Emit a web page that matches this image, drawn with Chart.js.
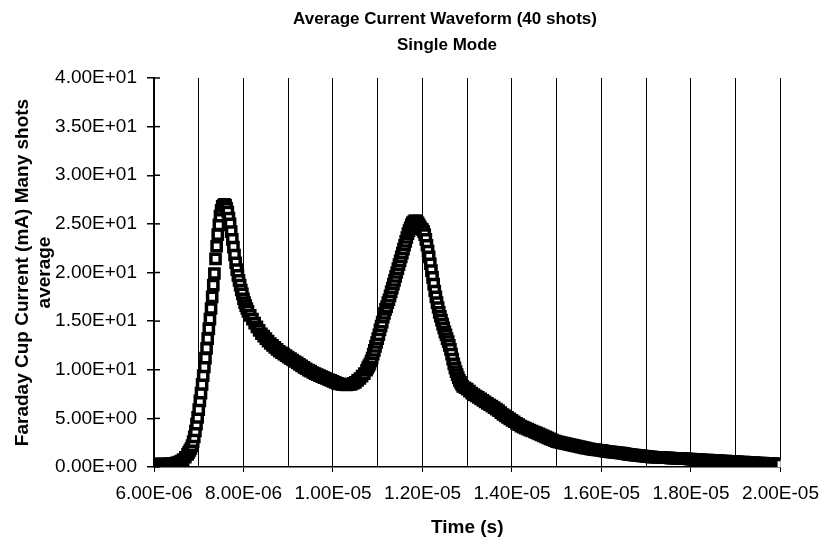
<!DOCTYPE html>
<html>
<head>
<meta charset="utf-8">
<script src="https://cdn.jsdelivr.net/npm/chart.js@4.4.1/dist/chart.umd.min.js"></script>
<style>
  html, body { margin: 0; padding: 0; background: #fff; }
  #wrap { width: 829px; height: 541px; }
</style>
</head>
<body>
<div id="wrap"><canvas id="grafico"></canvas></div>
<script>
// tiempos en microsegundos; paso de 0.05 en lo plano y 0.025 en los frentes rapidos
const baselineStart = 6.0, baselineStep = 0.05;
const baselineCurrent = [
  0.3, 0.3, 0.3, 0.3, 0.3, 0.3, 0.3, 0.32, 0.35, 0.38,
  0.42, 0.5, 0.6, 0.75, 1.0
];

const peak1Start = 6.75, peak1Step = 0.025;
const peak1Current = [
  1.3, 1.5, 1.7, 1.9, 2.2, 2.6, 3.1, 3.7, 4.4, 5.1, 5.9,
  6.8, 7.6, 8.5, 9.4, 10.3, 11.2, 12.2, 13.2, 14.2, 15.2,
  16.3, 17.5, 18.7, 19.9, 21.4, 22.7, 23.9, 24.9, 25.8, 26.4,
  26.8, 26.9, 27.0, 26.9, 26.6, 26.2, 25.6, 25.0, 24.2, 23.4,
  22.6, 21.8, 21.0, 20.3, 19.7, 19.2, 18.7, 18.2, 17.8, 17.3,
  16.9, 16.6, 16.3, 16.0
];

const valleyStart = 8.15, valleyStep = 0.05;
const valleyCurrent = [
  15.6, 15.2, 14.8, 14.4, 14.05, 13.7, 13.45, 13.2, 12.95, 12.7,
  12.5, 12.3, 12.1, 11.9, 11.75, 11.6, 11.45, 11.3, 11.15, 11.0,
  10.85, 10.7, 10.55, 10.4, 10.25, 10.1, 9.97, 9.85, 9.72, 9.6,
  9.5, 9.4, 9.3, 9.2, 9.1, 9.0, 8.9, 8.8, 8.7, 8.6,
  8.55, 8.5, 8.47, 8.45, 8.47, 8.5, 8.6, 8.7, 8.9, 9.1,
  9.35, 9.6
];

const peak2Start = 10.75, peak2Step = 0.025;
const peak2Current = [
  9.95, 10.2, 10.4, 10.6, 10.9, 11.2, 11.6, 12.0, 12.4, 12.8,
  13.2, 13.6, 14.1, 14.5, 14.9, 15.4, 15.8, 16.2, 16.5, 16.9,
  17.2, 17.6, 18.0, 18.4, 18.8, 19.2, 19.6, 20.0, 20.4, 20.8,
  21.2, 21.6, 22.0, 22.4, 22.8, 23.2, 23.6, 24.0, 24.3, 24.6,
  24.9, 25.1, 25.2, 25.3, 25.3, 25.2,
  25.1, 24.9, 24.7, 24.5, 24.4, 24.2, 23.9, 23.4, 22.8, 22.2,
  21.6, 20.9, 20.2, 19.5, 18.8, 18.1, 17.5, 16.9, 16.4, 15.9,
  15.5, 15.1, 14.7, 14.3, 13.9, 13.6, 13.2, 12.9, 12.5, 12.1,
  11.6, 11.1, 10.6, 10.2, 9.8, 9.5, 9.2, 8.9, 8.7, 8.5, 8.3
];

const tailStart = 12.95, tailStep = 0.05;
const tailCurrent = [
  8.15, 8.0,
  7.8, 7.6, 7.45, 7.3, 7.15, 7.0, 6.85, 6.7, 6.55, 6.4,
  6.25, 6.1, 5.95, 5.8, 5.6, 5.4, 5.25, 5.1, 4.95, 4.8,
  4.65, 4.5, 4.35, 4.2, 4.1, 4.0, 3.9, 3.8, 3.7, 3.6,
  3.5, 3.4, 3.3, 3.2, 3.1, 3.0, 2.9, 2.8, 2.7, 2.6,
  2.55, 2.5, 2.45, 2.4, 2.35, 2.3, 2.25, 2.2, 2.15, 2.1,
  2.05, 2.0, 1.95, 1.9, 1.85, 1.8, 1.78, 1.75, 1.72, 1.7,
  1.65, 1.6, 1.58, 1.55, 1.52, 1.5, 1.47, 1.45, 1.42, 1.4,
  1.35, 1.3, 1.28, 1.25, 1.22, 1.2, 1.18, 1.15, 1.12, 1.1,
  1.08, 1.05, 1.02, 1.0, 1.0, 1.0, 0.98, 0.95, 0.95, 0.95,
  0.92, 0.9, 0.9, 0.9, 0.88, 0.85, 0.85, 0.85, 0.82, 0.8,
  0.78, 0.75, 0.75, 0.75, 0.72, 0.7, 0.7, 0.7, 0.68, 0.65,
  0.65, 0.65, 0.62, 0.6, 0.6, 0.6, 0.58, 0.55, 0.55, 0.55,
  0.52, 0.5, 0.5, 0.5, 0.48, 0.45, 0.45, 0.45, 0.42, 0.4,
  0.4, 0.4, 0.38, 0.35, 0.35, 0.35, 0.32, 0.3, 0.3, 0.3
];

const chartTitle = ["Average Current Waveform (40 shots)", "Single Mode"];
const xTitle = "Time (s)";
const yTitle = ["Faraday Cup Current (mA) Many shots", "average"];

function tramo(inicio, paso, valores) {
  return valores.map((v, i) => ({ x: +(inicio + i * paso).toFixed(3), y: v }));
}

// formato tipo Excel: 1.20E-05
function sci(v) {
  const partes = v.toExponential(2).split("e");
  const exp = parseInt(partes[1], 10);
  return partes[0] + "E" + (exp < 0 ? "-" : "+") + String(Math.abs(exp)).padStart(2, "0");
}

const puntos = [].concat(
  tramo(baselineStart, baselineStep, baselineCurrent),
  tramo(peak1Start, peak1Step, peak1Current),
  tramo(valleyStart, valleyStep, valleyCurrent),
  tramo(peak2Start, peak2Step, peak2Current),
  tramo(tailStart, tailStep, tailCurrent)
);

const fuente = "'Liberation Sans', Arial, sans-serif";

// titulo centrado como en el original y marcas cortas hacia dentro del eje Y
const extras = {
  id: "extras",
  beforeDatasetsDraw(chart) {
    const ctx = chart.ctx;
    const y = chart.scales.y;
    const area = chart.chartArea;
    ctx.save();
    ctx.strokeStyle = "#000";
    ctx.lineWidth = 1.5;
    y.ticks.forEach(t => {
      const py = y.getPixelForValue(t.value);
      ctx.beginPath();
      ctx.moveTo(area.left, py);
      ctx.lineTo(area.left + 6, py);
      ctx.stroke();
    });
    ctx.restore();
  },
  afterDraw(chart) {
    const ctx = chart.ctx;
    ctx.save();
    ctx.fillStyle = "#000";
    ctx.font = "bold 17px " + fuente;
    ctx.textAlign = "center";
    ctx.textBaseline = "middle";
    ctx.fillText(chartTitle[0], 445, 19);
    ctx.fillText(chartTitle[1], 447, 45);
    ctx.restore();
  }
};

const ctx = document.getElementById("grafico").getContext("2d");
new Chart(ctx, {
  type: "scatter",
  data: {
    datasets: [{
      label: "Average current",
      data: puntos,
      showLine: false,
      pointStyle: "rect",
      pointRadius: 6.5,
      pointHoverRadius: 6.5,
      pointBorderWidth: 3.5,
      pointBackgroundColor: "#fff",
      pointBorderColor: "#000"
    }]
  },
  options: {
    responsive: true,
    maintainAspectRatio: false,
    animation: false,
    events: [],
    layout: { padding: { left: 0, right: 43, top: 78, bottom: 0 } },
    plugins: {
      legend: { display: false },
      title: { display: false },
      tooltip: { enabled: false }
    },
    scales: {
      x: {
        type: "linear",
        min: 6,
        max: 20,
        afterFit: s => { s.height = 74; },
        ticks: {
          stepSize: 1,
          autoSkip: false,
          maxRotation: 0,
          padding: 10,
          color: "#000",
          font: { family: fuente, size: 19 },
          callback: v => (Math.round(v) % 2 === 0 ? sci(v * 1e-6) : "")
        },
        grid: {
          color: "#000",
          lineWidth: 1,
          tickLength: 5,
          tickColor: c => (c.tick && Math.round(c.tick.value) % 2 === 0 ? "#000" : "rgba(0,0,0,0)")
        },
        border: { display: true, color: "#000", width: 1.5 },
        title: {
          display: true,
          text: xTitle,
          color: "#000",
          font: { family: fuente, size: 19, weight: "bold" },
          padding: { top: 0, bottom: 2 }
        }
      },
      y: {
        min: 0,
        max: 40,
        afterFit: s => { s.width = 154; },
        ticks: {
          stepSize: 5,
          padding: 10,
          color: "#000",
          font: { family: fuente, size: 19 },
          callback: v => sci(v)
        },
        grid: {
          drawOnChartArea: false,
          color: "#000",
          tickLength: 7,
          lineWidth: 1.5
        },
        border: { display: true, color: "#000", width: 2 },
        title: {
          display: true,
          text: yTitle,
          color: "#000",
          font: { family: fuente, size: 19, weight: "bold" },
          padding: { top: 11, bottom: 0 }
        }
      }
    }
  },
  plugins: [extras]
});
</script>
</body>
</html>
